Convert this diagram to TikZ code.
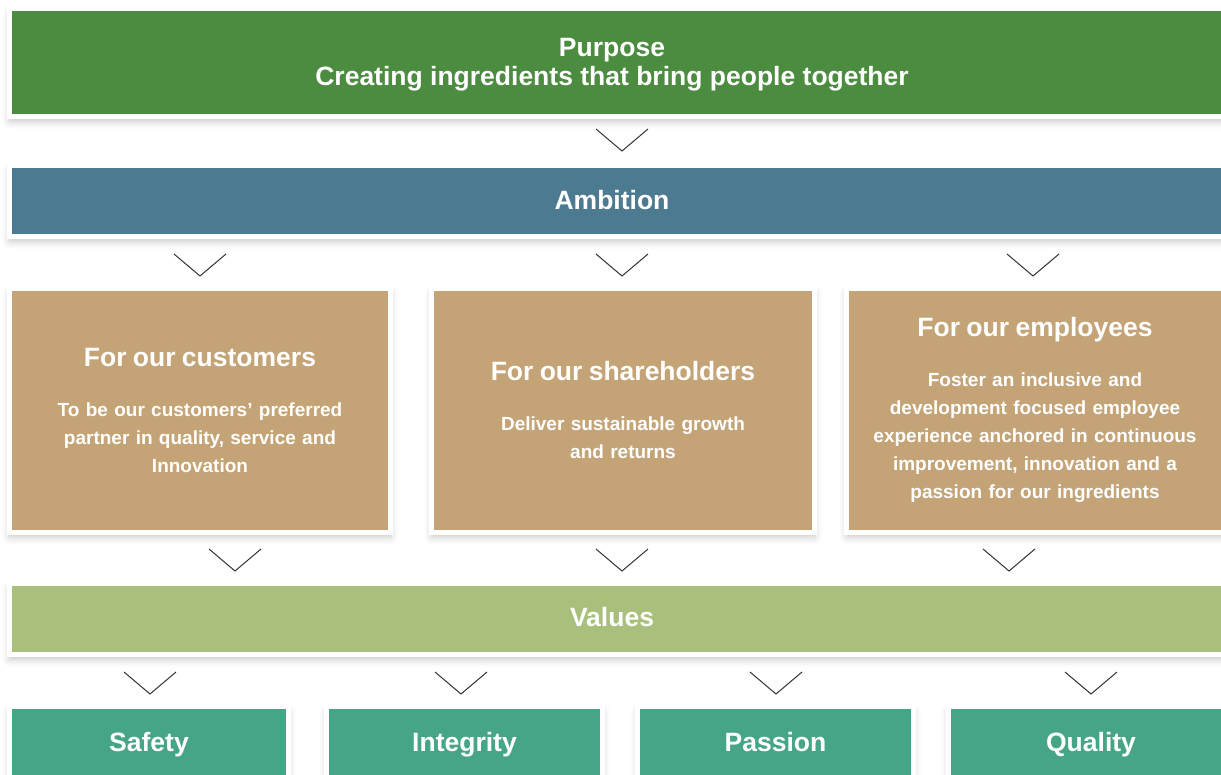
\documentclass[tikz,border=0pt]{standalone}
\usepackage{fontspec}
\setmainfont{Liberation Sans}
\usetikzlibrary{shadows,shadows.blur,positioning}

\definecolor{purposegreen}{RGB}{75,140,64}
\definecolor{ambitionblue}{RGB}{75,122,145}
\definecolor{pillartan}{RGB}{196,164,118}
\definecolor{valuesgreen}{RGB}{168,192,124}
\definecolor{valueteal}{RGB}{71,165,135}
\definecolor{chevgray}{RGB}{50,50,50}

\newcommand{\headfont}{\bfseries\fontsize{26.5}{29}\selectfont}
\newcommand{\bodyfont}{\bfseries\fontsize{19}{28}\selectfont}
\newcommand{\pillarhead}[1]{{\headfont #1\par}\vspace{22pt}}

\begin{document}
\begin{tikzpicture}[x=1pt,y=1pt]
  \tikzstyle{block} = [rectangle,draw=white,line width=5pt,inner sep=0pt,outer sep=0pt,
    text=white,blur shadow={shadow xshift=0pt,shadow yshift=-5pt,shadow blur radius=7pt,shadow opacity=22}]
  \tikzstyle{bar} = [block,minimum width=1233pt,minimum height=71pt]
  \tikzstyle{pillar} = [block,fill=pillartan,minimum height=244pt,text width=370pt,align=center,font=\bodyfont]
  \tikzstyle{value} = [block,fill=valueteal,minimum height=71pt,font=\headfont,text height=19pt,text depth=0pt]
  \tikzstyle{label} = [text=white,align=center,font=\headfont]
  \tikzstyle{chev} = [draw=chevgray,line width=1pt]
  \useasboundingbox (0,0) rectangle (1221,-774);
  \clip (0,0) rectangle (1221,-774);
  % bars
  \node[bar,fill=purposegreen,minimum height=108pt] at (626,-62.5) (purpose) {};
  \node[label] at (612,-64.5) (purposetxt) {Purpose\\Creating ingredients that bring people together};
  \node[bar,fill=ambitionblue] at (626,-201) (ambition) {};
  \node[label,text height=19pt,text depth=0pt] at (612,-200) (ambitiontxt) {Ambition};
  % pillars
  \node[pillar,minimum width=381pt] at (200,-410) (customers)
    {\pillarhead{For our customers}To be our customers’ preferred\\partner in quality, service and\\Innovation};
  \node[pillar,minimum width=383pt] at (623,-410) (shareholders)
    {\pillarhead{For our shareholders}Deliver sustainable growth\\and returns};
  \node[pillar,minimum width=377pt] at (1035,-410) (employees)
    {\pillarhead{For our employees}Foster an inclusive and\\development focused employee\\experience anchored in continuous\\improvement, innovation and a\\passion for our ingredients};
  \node[bar,fill=valuesgreen] at (626,-619) (values) {};
  \node[label,text height=19pt,text depth=0pt] at (612,-617) (valuestxt) {Values};
  % values
  \node[value,minimum width=279pt] at (149,-742) (safety) {Safety};
  \node[value,minimum width=276pt] at (464.5,-742) (integrity) {Integrity};
  \node[value,minimum width=276pt] at (775.5,-742) (passion) {Passion};
  \node[value,minimum width=285pt] at (1091,-742) (quality) {Quality};
  % chevrons
  \draw[chev] (596,-129) -- ++(26,-22) -- ++(26,22);
  \foreach \x in {200,622,1033}
    \draw[chev] (\x-26,-254) -- ++(26,-22) -- ++(26,22);
  \foreach \x in {235,622,1009}
    \draw[chev] (\x-26,-549) -- ++(26,-22) -- ++(26,22);
  \foreach \x in {150,461,776,1091}
    \draw[chev] (\x-26,-672) -- ++(26,-22) -- ++(26,22);
\end{tikzpicture}
\end{document}
